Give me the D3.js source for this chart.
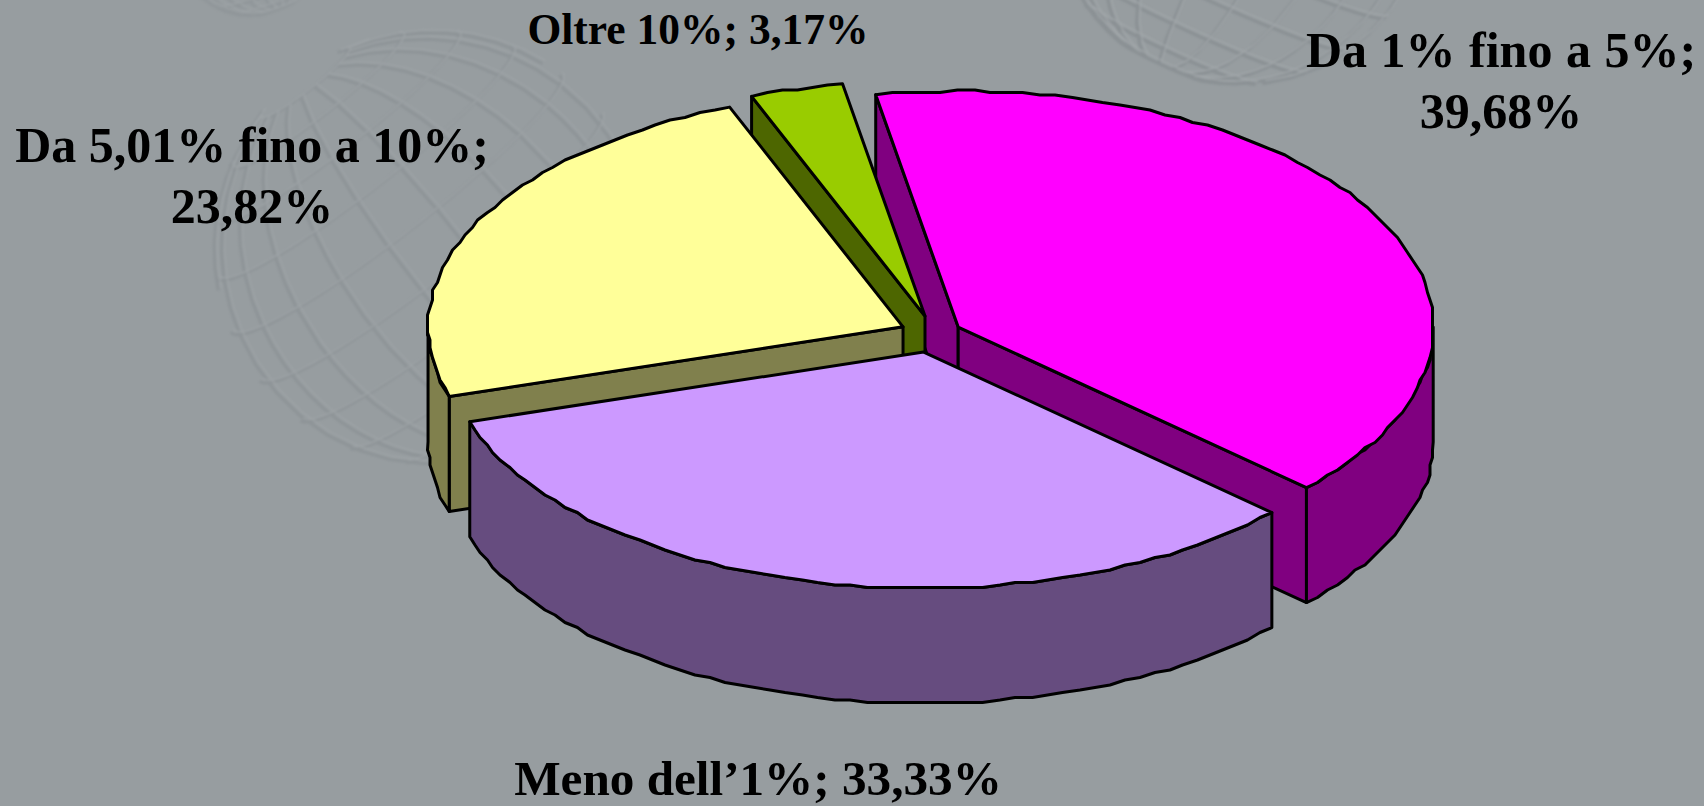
<!DOCTYPE html>
<html><head><meta charset="utf-8">
<script src="https://cdn.jsdelivr.net/npm/d3@7"></script>
<style>html,body{margin:0;padding:0;background:#979da0;overflow:hidden}svg{display:block}
text{font-family:"Liberation Serif",serif;font-weight:bold;fill:#000}</style></head>
<body><svg id="c" width="1704" height="806"></svg>
<script>
const categories=["Da 1% fino a 5%","Meno dell’1%","Da 5,01% fino a 10%","Oltre 10%"];
const values=[39.68,33.33,23.82,3.17];
const valueLabels=["39,68%","33,33%","23,82%","3,17%"];
const topColors=["#FF00FF","#CC99FF","#FFFF99","#99CC00"];
const sideColors=["#800080","#664C7F","#80804D","#4D6600"];
const paintOrder=[0,3,2,1];
const sliceNudgeX=[-2,0,2,3];
const sliceNudgeY=[0,1,-1,-3];

const W=1704,H=806,cx=931,cy=335,rx=475,ry=236,depth=115,explode=0.07,rad=Math.PI/180;
const svg=d3.select("#c");
svg.append("rect").attr("width",W).attr("height",H).attr("fill","#979da0");

// faint wireframe globes in the backdrop
const defs=svg.append("defs");
defs.append("filter").attr("id","soft").append("feGaussianBlur").attr("stdDeviation",1.3);
function globe(x,y,r,rot,op){
  const proj=d3.geoOrthographic().translate([x,y]).scale(r).rotate(rot).clipAngle(90);
  const path=d3.geoPath(proj);
  const grid=d3.geoGraticule().step([17,15]).extent([[-180,-75],[180,75.01]])();
  const g=svg.append("g").attr("filter","url(#soft)").attr("fill","none").attr("opacity",op);
  g.append("path").attr("d",path(grid)).attr("stroke","#83898d").attr("stroke-width",3.2);
  g.append("path").attr("d",path(grid)).attr("stroke","#a8adb0").attr("stroke-width",1.3).attr("transform","translate(3,-3)");
}
globe(430,248,216,[25,-8,38],0.42);
globe(1240,-105,190,[-20,-5,-25],0.6);
globe(250,-62,78,[10,-5,20],0.3);

const pie=d3.pie().sort(null).value(d=>d).startAngle(-10*rad).endAngle(350*rad);
const arcs=pie(values);
const STEP=2*rad,GRID=2.5;
const q=v=>Math.round(v/GRID)*GRID;
function rim(c,a0,a1){
  const n=Math.max(1,Math.ceil((a1-a0)/STEP)),pts=[];
  for(let i=0;i<=n;i++){
    const t=a0+(a1-a0)*i/n;
    const px=c[0]+rx*Math.sin(t),py=c[1]-ry*Math.cos(t);
    pts.push(i===0||i===n?[px,py]:[q(px),q(py)]);
  }
  return pts;
}
const line=d3.line().curve(d3.curveLinearClosed);
const down=p=>[p[0],p[1]+depth];
const edge={stroke:"#000","stroke-width":3,"stroke-linejoin":"round"};
function face(g,pts,fill){
  const s=g.append("path").attr("d",line(pts)).attr("fill",fill);
  Object.entries(edge).forEach(([k,v])=>s.attr(k,v));
}
paintOrder.forEach(i=>{
  const a=arcs[i],g=svg.append("g");
  const mid=(a.startAngle+a.endAngle)/2;
  const c=[cx+explode*rx*Math.sin(mid)+sliceNudgeX[i],cy-explode*ry*Math.cos(mid)+sliceNudgeY[i]];
  const top=rim(c,a.startAngle,a.endAngle);
  const s0=top[0],s1=top[top.length-1];
  if(Math.sin(a.startAngle)<0) face(g,[c,s0,down(s0),down(c)],sideColors[i]);
  if(Math.sin(a.endAngle)>0) face(g,[c,s1,down(s1),down(c)],sideColors[i]);
  const from=Math.max(a.startAngle,90*rad),to=Math.min(a.endAngle,270*rad);
  if(to>from){
    const r=rim(c,from,to);
    face(g,r.concat(r.map(down).reverse()),sideColors[i]);
  }
  face(g,[c].concat(top),topColors[i]);
});

// labels
const labelSpec=[
 {i:3,size:43.5,lines:[categories[3]+"; "+valueLabels[3]],x:698,y:[44],ws:0},
 {i:0,size:50,lines:[categories[0]+";",valueLabels[0]],x:1501,y:[67,128],ws:1},
 {i:2,size:50,lines:[categories[2]+";",valueLabels[2]],x:252,y:[162,223],ws:0},
 {i:1,size:49.2,lines:[categories[1]+"; "+valueLabels[1]],x:758,y:[795],ws:0}
];
labelSpec.forEach(l=>l.lines.forEach((t,k)=>{
  svg.append("text").attr("x",l.x).attr("y",l.y[k]).attr("text-anchor","middle")
    .attr("font-size",l.size).attr("word-spacing",l.ws).text(t);
}));
</script></body></html>
